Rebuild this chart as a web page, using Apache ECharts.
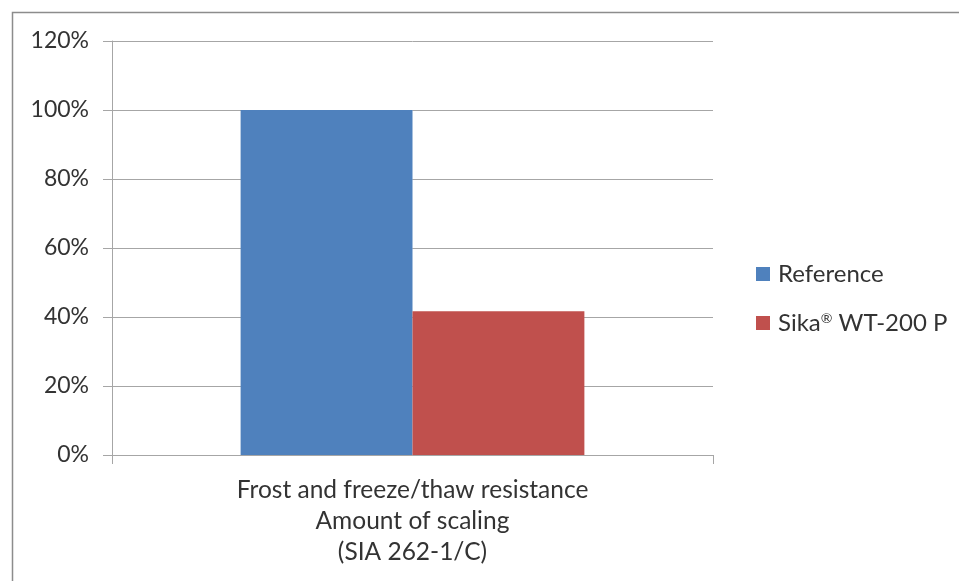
<!DOCTYPE html>
<html>
<head>
<meta charset="utf-8">
<script src="https://cdn.jsdelivr.net/npm/echarts@6/dist/echarts.min.js"></script>
<style>html,body{margin:0;padding:0;background:#fff;}#c{width:959px;height:581px;}</style>
</head>
<body>
<div id="c"></div>
<script>
const categories = ['Frost and freeze/thaw resistance\nAmount of scaling\n(SIA 262-1/C)'];
const seriesNames = ['Reference', 'Sika® WT-200 P'];
const referenceValues = [100];
const sikaValues = [41.7];
const yTicks = [0, 20, 40, 60, 80, 100, 120];

const FONT = 'Lato';
const TXT = '#333333';
const chart = echarts.init(document.getElementById('c'), null, {renderer: 'canvas'});
chart.setOption({
  animation: false,
  backgroundColor: '#fff',
  textStyle: {fontFamily: FONT},
  graphic: [{
    type: 'rect', left: 10, top: 10, z: 100,
    shape: {x: 0, y: 0, width: 1000, height: 1000},
    style: {fill: 'none', stroke: '#8c8c8c', lineWidth: 1.5}
  }],
  grid: {left: 112, right: 246, top: 41, bottom: 126, containLabel: false},
  legend: {
    orient: 'vertical', left: 756, top: 262, padding: 0,
    itemWidth: 14, itemHeight: 14, itemGap: 25,
    icon: 'rect',
    formatter: name => name.replace('®', '{sup|®}'),
    textStyle: {fontFamily: FONT, fontSize: 24, color: TXT, padding: [0, 0, 0, 3],
      rich: {sup: {fontFamily: FONT, fontSize: 14, color: TXT, padding: [0, 0, 9, 0]}}},
    data: seriesNames
  },
  xAxis: {
    type: 'category', data: categories,
    axisLine: {lineStyle: {color: '#a6a6a6', width: 1}},
    axisTick: {show: true, length: 9, lineStyle: {color: '#a6a6a6'}},
    axisLabel: {fontFamily: FONT, fontSize: 24.5, color: TXT, lineHeight: 31, margin: 20}
  },
  yAxis: {
    type: 'value', min: 0, max: 120, interval: 20,
    axisLine: {show: true, lineStyle: {color: '#a6a6a6', width: 1}},
    axisTick: {show: true, length: 9, lineStyle: {color: '#a6a6a6'}},
    splitLine: {lineStyle: {color: '#a6a6a6', width: 1}},
    axisLabel: {fontFamily: FONT, fontSize: 23, color: TXT, margin: 23,
      formatter: v => yTicks.includes(v) ? v + '%' : ''}
  },
  series: [
    {name: seriesNames[0], type: 'bar', data: referenceValues, barWidth: '28.6%', barGap: '0%',
     itemStyle: {color: '#4F81BD'}},
    {name: seriesNames[1], type: 'bar', data: sikaValues, barWidth: '28.6%', barGap: '0%',
     itemStyle: {color: '#C0504D'}}
  ]
});
</script>
</body>
</html>
